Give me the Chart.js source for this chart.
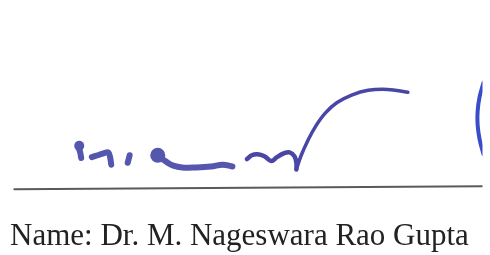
<!DOCTYPE html>
<html>
<head>
<meta charset="utf-8">
<script src="https://cdn.jsdelivr.net/npm/chart.js@4.4.1/dist/chart.umd.min.js"></script>
<style>
  html, body { margin: 0; padding: 0; background: #fff; }
  #wrap { position: relative; width: 490px; height: 255px; overflow: hidden; }
  #sig { position: absolute; left: 0; top: 0; }
  #name {
    position: absolute; left: 10px; top: 219px;
    font-family: "Liberation Serif", "DejaVu Serif", serif;
    font-size: 31px; line-height: 1; color: #222; white-space: nowrap;
  }
</style>
</head>
<body>
<div id="wrap">
  <canvas id="sig" width="490" height="255"></canvas>
  <div id="name">Name: Dr. M. Nageswara Rao Gupta</div>
</div>
<script>
// pen strokes (x right, y down)
const stemStroke = [{x: 73, y: 148}, {x: 75, y: 154}, {x: 76, y: 160}];
const hookStroke = [{x: 87, y: 159}, {x: 93, y: 157}, {x: 99, y: 155}, {x: 104, y: 154}, {x: 106, y: 160}, {x: 107, y: 167}];
const dotStroke = [{x: 126, y: 157}, {x: 125, y: 161}, {x: 124, y: 165}];
const tailStroke = [{x: 157, y: 159}, {x: 164, y: 164}, {x: 171, y: 168}, {x: 180, y: 170}, {x: 195, y: 170}, {x: 210, y: 169}, {x: 222, y: 167}, {x: 232, y: 169}];
const waveStroke = [{x: 247, y: 161}, {x: 252, y: 157}, {x: 258, y: 156}, {x: 265, y: 158}, {x: 272, y: 163}, {x: 278, y: 159}, {x: 285, y: 155}, {x: 291, y: 154}, {x: 296, y: 158}, {x: 298, y: 165}, {x: 298, y: 172}];
const archStroke = [{x: 298, y: 172}, {x: 303, y: 157}, {x: 310, y: 141}, {x: 318, y: 126}, {x: 328, y: 112}, {x: 340, y: 101}, {x: 355, y: 93}, {x: 372, y: 88}, {x: 392, y: 87}, {x: 413, y: 90}];
const blobs = [{x: 74, y: 147, r: 5}, {x: 155, y: 157, r: 7.5}];
const stampEdge = [{x: 491, y: 80}, {x: 487, y: 95}, {x: 485, y: 110}, {x: 485, y: 125}, {x: 487, y: 140}, {x: 491, y: 156}];
const ruleLine = [{x: 7, y: 193}, {x: 490, y: 190}];

const inkLight = '#5557ae';
const inkDark = '#4a46a6';

function stroke(data, color, width) {
  return {
    data: data,
    showLine: true,
    borderColor: color,
    borderWidth: width,
    borderCapStyle: 'round',
    borderJoinStyle: 'round',
    tension: 0.4,
    pointRadius: 0,
    fill: false
  };
}

new Chart(document.getElementById('sig'), {
  type: 'scatter',
  data: {
    datasets: [
      stroke(ruleLine, '#5a5a5a', 2),
      stroke(stemStroke, inkLight, 6),
      stroke(hookStroke, inkLight, 6),
      stroke(dotStroke, inkLight, 6),
      stroke(tailStroke, inkLight, 6),
      stroke(waveStroke, inkDark, 4.5),
      stroke(archStroke, inkDark, 3.5),
      stroke(stampEdge, '#3a4cc9', 4),
      {
        data: blobs,
        pointRadius: blobs.map(b => b.r),
        pointBackgroundColor: inkLight,
        pointBorderWidth: 0,
        showLine: false
      }
    ]
  },
  options: {
    responsive: false,
    animation: false,
    layout: { padding: 0 },
    plugins: { legend: { display: false }, tooltip: { enabled: false } },
    scales: {
      x: { type: 'linear', min: 0, max: 490, display: false },
      y: { type: 'linear', min: 0, max: 255, reverse: true, display: false }
    }
  }
});
</script>
</body>
</html>
